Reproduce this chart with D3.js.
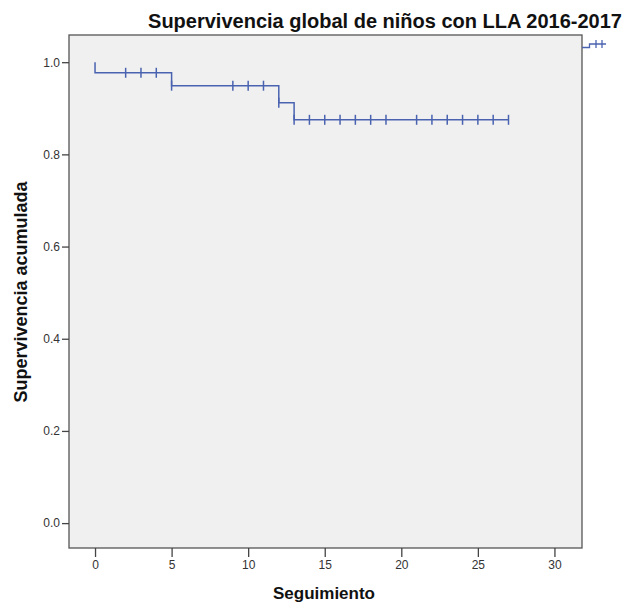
<!DOCTYPE html>
<html>
<head>
<meta charset="utf-8">
<script src="https://cdn.jsdelivr.net/npm/d3@7"></script>
<style>
  body { margin: 0; background: #fff; }
  text { font-family: "Liberation Sans", Arial, sans-serif; }
</style>
</head>
<body>
<svg width="622" height="605"></svg>
<script>
// step curve: time of each step and survival after it
var stepTimes = [0, 5, 12, 13];
var stepSurv = [0.977, 0.949, 0.912, 0.875];
// censored cases (time)
var censorTimes = [2, 3, 4, 5, 9, 10, 11, 12, 13, 14, 15, 16, 17, 18, 19, 21, 22, 23, 24, 25, 26, 27];
var xTicks = [0, 5, 10, 15, 20, 25, 30];
var yTicks = [0, 0.2, 0.4, 0.6, 0.8, 1.0];
var endTime = 27;

var svg = d3.select("svg");
var pL = 69, pR = 582, pT = 35, pB = 548;
var blue = "#4a63b0";

var x = d3.scaleLinear().domain([-1.7, 31.8]).range([pL, pR]);
var y = d3.scaleLinear().domain([-0.054, 1.059]).range([pB, pT]);

// survival at time t
function surv(t) {
  var s = 1;
  for (var i = 0; i < stepTimes.length; i++) if (stepTimes[i] <= t) s = stepSurv[i];
  return s;
}

svg.append("rect")
  .attr("x", pL).attr("y", pT)
  .attr("width", pR - pL).attr("height", pB - pT)
  .attr("fill", "#f0f0f0").attr("stroke", "#555").attr("stroke-width", 1.3);

// axes
var xAxis = svg.append("g")
  .attr("transform", "translate(0," + pB + ")")
  .call(d3.axisBottom(x).tickValues(xTicks).tickSize(9).tickPadding(3).tickFormat(d3.format("d")));
var yAxis = svg.append("g")
  .attr("transform", "translate(" + pL + ",0)")
  .call(d3.axisLeft(y).tickValues(yTicks).tickSize(7).tickPadding(2).tickFormat(d3.format(".1f")));
[xAxis, yAxis].forEach(function(a) {
  a.select(".domain").remove();
  a.selectAll("line").attr("stroke", "#444").attr("stroke-width", 1.3);
  a.selectAll("text").attr("fill", "#333").style("font-size", "12px")
    .style("font-family", "'Liberation Sans', Arial, sans-serif");
});

// step line
var pts = [[0, 1]];
stepTimes.forEach(function(t, i) {
  pts.push([t, i == 0 ? 1 : stepSurv[i - 1]]);
  pts.push([t, stepSurv[i]]);
});
pts.push([endTime, surv(endTime)]);

svg.append("path")
  .datum(pts)
  .attr("fill", "none")
  .attr("stroke", blue)
  .attr("stroke-width", 1.5)
  .attr("d", d3.line().x(function(d) { return x(d[0]); }).y(function(d) { return y(d[1]); }));

svg.append("g").selectAll("line")
  .data(censorTimes)
  .enter().append("line")
    .attr("x1", function(d) { return x(d); })
    .attr("x2", function(d) { return x(d); })
    .attr("y1", function(d) { return y(surv(d)) - 5; })
    .attr("y2", function(d) { return y(surv(d)) + 5; })
    .attr("stroke", blue)
    .attr("stroke-width", 1.5);

// clipped legend glyph on the right edge
var lg = svg.append("g").attr("stroke", blue).attr("stroke-width", 1.3).attr("fill", "none");
lg.append("path").attr("d", "M582,47.5H589.5V44H606");
lg.append("line").attr("x1", 596).attr("x2", 596).attr("y1", 40).attr("y2", 48);
lg.append("line").attr("x1", 602).attr("x2", 602).attr("y1", 40).attr("y2", 48);

// titles
svg.append("text")
  .attr("x", 385).attr("y", 28)
  .attr("text-anchor", "middle")
  .style("font-size", "20px").style("font-weight", "bold")
  .attr("fill", "#111")
  .text("Supervivencia global de niños con LLA 2016-2017");

svg.append("text")
  .attr("x", 324).attr("y", 599)
  .attr("text-anchor", "middle")
  .style("font-size", "17px").style("font-weight", "bold")
  .attr("fill", "#111")
  .text("Seguimiento");

svg.append("text")
  .attr("transform", "translate(27,292) rotate(-90)")
  .attr("text-anchor", "middle")
  .style("font-size", "18px").style("font-weight", "bold")
  .attr("fill", "#111")
  .text("Supervivencia acumulada");
</script>
</body>
</html>
